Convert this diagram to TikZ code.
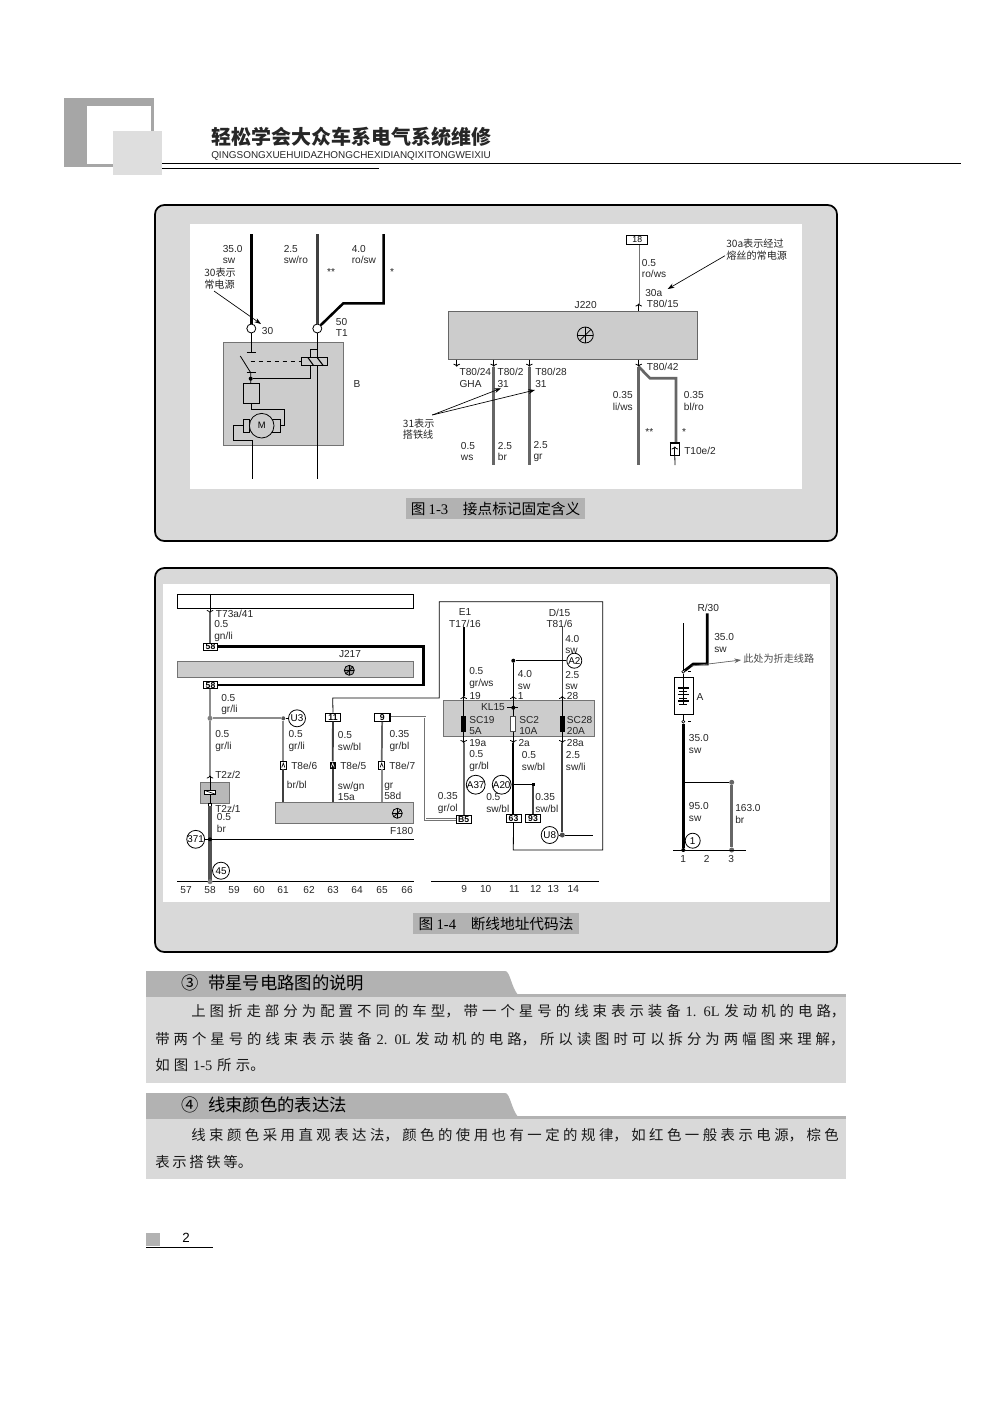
\documentclass[tikz,border=0pt]{standalone}
\usepackage{fontspec}
\setmainfont{Liberation Serif}
\setsansfont{Liberation Sans}
\newfontfamily\cjk{Noto Sans CJK SC}
\usetikzlibrary{arrows.meta}
\XeTeXlinebreaklocale "zh"
\XeTeXlinebreakskip=0pt plus 8pt
\def\px{0.75pt}
\definecolor{panelgray}{HTML}{D9D9D9}
\definecolor{capgray}{HTML}{B2B2B2}
\definecolor{boxgray}{HTML}{CCCCCC}
\definecolor{headgray}{HTML}{A6A6A6}
\definecolor{lightsq}{HTML}{DEDEDE}
\tikzstyle{panel} = [draw=black, fill=panelgray, line width=1.3pt, rounded corners=7pt]
\tikzstyle{capbox} = [fill=capgray, inner sep=0pt, font=\cjk\fontsize{11}{13}\selectfont, minimum height=21*\px]
\tikzstyle{lbl} = [font=\sffamily\fontsize{7.6}{8.6}\selectfont, inner sep=0pt, text=black!85, align=left, anchor=west]
\tikzstyle{lblc} = [lbl, anchor=center, align=center]
\tikzstyle{note} = [font=\cjk\fontsize{7.6}{8.6}\selectfont, inner sep=0pt, text=black!85, align=left, anchor=west]
\tikzstyle{gbox} = [rectangle, draw=black!55, fill=boxgray, inner sep=0pt, line width=.7pt]
\tikzstyle{wbox} = [rectangle, draw=black, fill=white, inner sep=0pt, line width=.7pt, font=\sffamily\bfseries\fontsize{6.5}{7}\selectfont]
\tikzstyle{term} = [circle, draw=black, fill=white, inner sep=0pt, minimum size=9*\px, line width=.6pt]
\tikzstyle{addr} = [circle, draw=black, fill=white, inner sep=0pt, minimum size=17*\px, line width=.6pt, font=\sffamily\fontsize{7.4}{8}\selectfont]
\tikzstyle{dotk} = [circle, fill=black, inner sep=0pt, minimum size=4*\px]
\tikzstyle{dotg} = [circle, fill=black!50, inner sep=0pt, minimum size=5*\px]
\tikzstyle{wirek} = [draw=black, line width=2.1pt]
\tikzstyle{wired} = [draw=black!75, line width=1.8pt]
\tikzstyle{wireg} = [draw=black!60, line width=2pt]
\tikzstyle{wirel} = [draw=black!45, line width=1.4pt]
\tikzstyle{thinw} = [draw=black, line width=.6pt]
\tikzstyle{dblw} = [draw=black!55, line width=.6pt, double=white, double distance=.5pt]
\tikzstyle{pinw} = [thinw, -{To[length=2.2pt,width=5pt]}]
\tikzstyle{arrw} = [draw=black, line width=.5pt, -{Stealth[length=5pt,width=3.5pt]}]
\tikzstyle{ecusym} = [circle, draw=black, inner sep=0pt, line width=.6pt, path picture={
	\draw[line width=.5pt] (path picture bounding box.west) -- (path picture bounding box.east);
	\draw[line width=.5pt] (path picture bounding box.north) -- (path picture bounding box.south);
	\draw[line width=.5pt] (path picture bounding box.south west) -- (path picture bounding box.north east);}]
\tikzstyle{pinbox} = [rectangle, draw=black, fill=white, inner sep=0pt, minimum width=6*\px, minimum height=7.3*\px, line width=.6pt, path picture={
	\draw[line width=.5pt] ([xshift=-1.2pt,yshift=-1.6pt]path picture bounding box.center) -- ([yshift=1.6pt]path picture bounding box.center) -- ([xshift=1.2pt,yshift=-1.6pt]path picture bounding box.center);}]
\tikzstyle{pinboxk} = [rectangle, fill=black, inner sep=0pt, minimum width=6*\px, minimum height=7.3*\px, path picture={
	\draw[white, line width=.5pt] ([xshift=-1.2pt,yshift=-1.6pt]path picture bounding box.center) -- ([yshift=1.6pt]path picture bounding box.center) -- ([xshift=1.2pt,yshift=-1.6pt]path picture bounding box.center);}]
\tikzstyle{bodytxt} = [font=\cjk\fontsize{10.8}{14}\selectfont, inner sep=0pt, anchor=west, text=black!90, execute at begin node={\tolerance=10000\hbadness=10000\parfillskip=0pt\relax}]
\tikzstyle{tabtitle} = [font=\cjk\fontsize{13}{15}\selectfont, inner sep=0pt, anchor=west]

\begin{document}
\begin{tikzpicture}[x=0.75pt,y=-0.75pt]
	\useasboundingbox (0,0) rectangle (992,1403);
	\fill[white] (0,0) rectangle (992,1403);

	\fill[headgray] (64,98) rectangle (154,167);
	\fill[white] (87,106) rectangle (151,164);
	\fill[lightsq] (113,131) rectangle (162,175);
	\draw[line width=.7pt] (162,163.5) -- (961,163.5);
	\draw[line width=.7pt] (162,168.5) -- (379,168.5);
	\node[inner sep=0pt, anchor=west, font=\cjk\bfseries\fontsize{15}{17}\selectfont, text=black!85](booktitle) at (211,137) {轻松学会大众车系电气系统维修};
	\node[inner sep=0pt, anchor=west, font=\sffamily\fontsize{7.45}{8}\selectfont, text=black!85](bookpinyin) at (211,155.5) {QINGSONGXUEHUIDAZHONGCHEXIDIANQIXITONGWEIXIU};

	\draw[panel] (155,205) rectangle (837,541);
	\fill[white] (190,224) rectangle (802,489);
	\node[capbox, minimum width=179*\px](cap3) at (495.5,508.5) {图 {\rmfamily 1-3}\quad 接点标记固定含义};

	\draw[panel] (155,568) rectangle (837,952);
	\fill[white] (163,584) rectangle (830,902);
	\node[capbox, minimum width=166*\px](cap4) at (496,923.5) {图 {\rmfamily 1-4}\quad 断线地址代码法};

	\node[gbox, minimum width=119.6*\px, minimum height=103.4*\px](boxb) at (283.5,394) {};
	\node[term](c30) at (251.3,328.5) {};
	\node[term](c50) at (317.3,328.5) {};
	\coordinate (w30) at (251.3,234);
	\coordinate (w50) at (317.3,234);
	\coordinate (w50b) at (317.3,479.3);
	\coordinate (w15) at (383.7,234);
	\coordinate (sw1) at (251.3,352.7);
	\draw[wirek] (w30) -- (c30);
	\draw[wired] (w50) -- (c50);
	\draw[wirek, line width=1.9pt] (w15) -- (383.7,303.3) -- (343.3,303.3) -- (c50);
	\draw[thinw] (c30) -- (sw1);
	\draw[thinw] (c50) -- (w50b);
	\draw[line width=1.1pt] (246.7,352.7) -- (256,352.7);
	\draw[line width=1.1pt] (246.7,372.7) -- (256,372.7);
	\draw[thinw] (240.3,356) -- (250.7,372.7) -- (250.7,383.3);
	\node[rectangle, draw=black, fill=boxgray, inner sep=0pt, minimum width=26*\px, minimum height=8*\px, line width=.5pt](rel) at (314.3,361.7) {};
	\draw[line width=1.3pt] (rel.north west) -- (rel.north east);
	\draw[line width=.8pt] (308,357.7) -- (313.7,365.7);
	\draw[line width=.8pt] (317.3,357.7) -- (323.3,365.7);
	\draw[thinw, dashed] (250.7,361.7) -- (rel.west);
	\draw[thinw] (310.3,357.7) -- (310.3,349.3) -- (317.3,349.3);
	\node[dotk](swdot) at (250.7,378.7) {};
	\draw[thinw] (swdot) -- (310.3,378.7) -- (310.3,365.7);
	\node[rectangle, draw=black, fill=boxgray, inner sep=0pt, minimum width=16*\px, minimum height=20*\px, line width=.6pt](res) at (251.3,393.3) {};
	\node[rectangle, draw=black, fill=boxgray, inner sep=0pt, minimum width=6*\px, minimum height=13.3*\px, line width=.6pt](brl) at (246.3,425.7) {};
	\node[rectangle, draw=black, fill=boxgray, inner sep=0pt, minimum width=8.4*\px, minimum height=13.3*\px, line width=.6pt](brr) at (276.5,425.7) {};
	\node[circle, draw=black, fill=boxgray, inner sep=0pt, minimum size=24.6*\px, line width=.6pt, font=\sffamily\fontsize{7}{8}\selectfont](motor) at (261.7,425.7) {M};
	\draw[thinw] (res.south) -- (251.3,409.3) -- (284.7,409.3) -- (284.7,425.7) -- (brr.east);
	\coordinate (wmot) at (252.7,479.3);
	\draw[thinw] (brl.west) -- (233.3,425.7) -- (233.3,440) -- (252.7,440) -- (wmot);
	\node[lbl](lw30) at (222.5,254.5) {35.0\\sw};
	\node[lbl](lw50) at (283.5,254.5) {2.5\\sw/ro};
	\node[lbl](lw15) at (351.5,254.5) {4.0\\ro/sw};
	\node[lblc](st1) at (331,272) {**};
	\node[lblc](st2) at (392,272) {*};
	\node[note](n30) at (204,278.5) {30表示\\常电源};
	\coordinate (n30a) at (214,291);
	\coordinate (n30b) at (261,324);
	\draw[arrw] (n30a) -- (n30b);
	\node[lbl](l30) at (261.7,331) {30};
	\node[lbl](l50) at (335.7,327.5) {50\\T1};
	\node[lblc](lb) at (357,384) {B};

	\node[wbox, minimum width=20.7*\px, minimum height=9.4*\px, font=\sffamily\fontsize{6.5}{7}\selectfont](b18) at (637.3,240) {18};
	\node[gbox, minimum width=248.6*\px, minimum height=47.7*\px, draw=black!60](j220) at (573,335.2) {};
	\draw[line width=1.2pt, black!60] (j220.south west) -- (j220.south east);
	\node[ecusym, minimum size=16*\px](j220s) at (585.3,335) {};
	\coordinate (p15) at (638.7,303.5);
	\draw[dblw] (b18.south -| p15) -- (p15);
	\draw[pinw] (j220.north -| p15) -- (p15);
	\coordinate (p24) at (456.7,366.7);
	\coordinate (p2) at (493.7,366.7);
	\coordinate (p28) at (529.3,366.7);
	\coordinate (p42) at (638.7,366.7);
	\foreach \p in {p24,p2,p28,p42}
		\draw[pinw] (j220.south -| \p) -- (\p);
	\coordinate (e2) at (493.7,465);
	\coordinate (e28) at (529.3,465);
	\coordinate (e42) at (638.7,465);
	\draw[wireg] (p2) -- (e2);
	\draw[wireg] (p28) -- (e28);
	\draw[wireg] (p42) -- (e42);
	\node[rectangle, draw=black, fill=white, inner sep=0pt, minimum width=9*\px, minimum height=12.4*\px, line width=.6pt](t10) at (674.8,449.5) {};
	\draw[wireg] (p42) -- (650,378.3) -- (676,378.3) -- (676,443.3);
	\draw[line width=1.3pt] (t10.north west) -- (t10.north east);
	\coordinate (t10e) at (675,465);
	\draw[thinw] (t10.south) -- (t10e);
	\draw[pinw] (t10.south) -- (674.8,446.5);
	\node[lbl](l18a) at (641.7,268.5) {0.5\\ro/ws};
	\node[lbl](l30a) at (645,292.7) {30a};
	\node[lbl](lt15) at (646.7,304.3) {T80/15};
	\node[lblc](lj220) at (585.7,305) {J220};
	\node[lbl](lt24) at (459.3,378) {T80/24\\GHA};
	\node[lbl](lt2) at (497.3,378) {T80/2\\31};
	\node[lbl](lt28) at (535,378) {T80/28\\31};
	\node[lbl](lt42) at (646.7,366.7) {T80/42};
	\node[lbl](lli) at (612.7,401) {0.35\\li/ws};
	\node[lbl](lbl1) at (683.7,401) {0.35\\bl/ro};
	\node[lblc](st3) at (649.3,431.7) {**};
	\node[lblc](st4) at (684,431.7) {*};
	\node[lbl](lws) at (460.7,451.5) {0.5\\ws};
	\node[lbl](lbr) at (497.7,451.5) {2.5\\br};
	\node[lbl](lgr) at (533.3,451.5) {2.5\\gr};
	\node[lbl](lt10) at (684,451) {T10e/2};
	\node[note](n31) at (402.7,429) {31表示\\搭铁线};
	\coordinate (n31a) at (432.3,415);
	\coordinate (n31b) at (501,388.3);
	\coordinate (n31c) at (535,390);
	\draw[arrw] (n31a) -- (n31b);
	\draw[arrw] (n31a) -- (n31c);
	\node[note](n30x) at (726,249.5) {30a表示经过\\熔丝的常电源};
	\coordinate (n30xa) at (725,255.7);
	\coordinate (n30xb) at (667.7,289);
	\draw[arrw] (n30xa) -- (n30xb);

	\node[rectangle, draw=black, fill=white, inner sep=0pt, line width=.7pt, minimum width=236.4*\px, minimum height=14*\px](topbox) at (295.5,601.3) {};
	\node[gbox, minimum width=236.4*\px, minimum height=16.4*\px](j217) at (295.5,669.5) {};
	\node[ecusym, minimum size=10*\px, fill=black!40](j217s) at (349.3,670.3) {};
	\node[gbox, minimum width=138.4*\px, minimum height=21.4*\px](f180) at (344.5,813) {};
	\node[ecusym, minimum size=10*\px](f180s) at (397.3,813.3) {};
	\node[gbox, minimum width=29*\px, minimum height=21*\px, fill=black!28](t2z) at (215.2,792.8) {};
	\node[wbox, minimum width=14.4*\px, minimum height=7*\px](b58a) at (210.5,646.7) {58};
	\node[wbox, minimum width=14.4*\px, minimum height=7*\px](b58b) at (210.5,685.2) {58};
	\node[wbox, minimum width=15.4*\px, minimum height=8*\px](b11) at (333,717.2) {11};
	\node[wbox, minimum width=15.7*\px, minimum height=8*\px, line width=1pt](b9) at (382.2,717.2) {9};
	\coordinate (q73) at (210,613);
	\draw[pinw] (topbox.north -| q73) -- (q73);
	\draw[wireg, line width=1.6pt] (q73) -- (b58a.north -| q73);
	\draw[wirek, line width=1.9pt] (b58a.east) -- (423.3,646.7) -- (423.3,685.2) -- (b58b.east);
	\node[dotg](jn1) at (210,718.3) {};
	\node[addr](u3) at (297,718.3) {U3};
	\node[dotg, fill=black!65, minimum size=4*\px](jn2) at (283.3,718.3) {};
	\coordinate (q2z) at (210,775.5);
	\draw[wirel] (b58b.south -| q2z) -- (jn1);
	\draw[wirel] (jn1) -- (q2z);
	\draw[wirel] (jn1) -- (jn2);
	\draw[thinw] (jn2) -- (u3);
	\node[pinbox](t86) at (283.3,765.3) {};
	\node[pinboxk](t85) at (332.7,765.3) {};
	\node[pinbox](t87) at (381.7,765.3) {};
	\draw[wirel] (jn2) -- (t86);
	\draw[wired, line width=1.6pt] (t86) -- (t86 |- f180.north);
	\draw[wired, line width=1.4pt] (b11) -- (t85);
	\draw[wired, line width=1.4pt] (t85) -- (t85 |- f180.north);
	\draw[wireg, line width=1.3pt] (b9) -- (t87);
	\draw[wirel] (t87) -- (t87 |- f180.north);
	\draw[pinw] (t2z.north -| q2z) -- (q2z);
	\node[rectangle, draw=black, fill=white, inner sep=0pt, minimum width=11.4*\px, minimum height=4*\px, line width=.6pt, path picture={\draw[line width=.5pt] (path picture bounding box.north west) -- (path picture bounding box.south east);}](relz) at (210,792.3) {};
	\draw[thinw] (t2z.north -| q2z) -- (relz);
	\node[rectangle, draw=black, fill=white, inner sep=0pt, minimum width=3*\px, minimum height=3*\px, line width=.4pt](t21) at (210,804.5) {};
	\draw[thinw] (relz) -- (t21);
	\coordinate (axl) at (177.3,881.7);
	\coordinate (axr) at (413.7,881.7);
	\coordinate (axj) at (210,881.7);
	\draw[draw=black!68, line width=2.3pt] (t21.south) -- (axj);
	\node[addr](a371) at (195.7,839.3) {371};
	\coordinate (e371) at (413.7,839.3);
	\draw[thinw] (a371) -- (e371);
	\node[dotk](d371) at (210,839.3) {};
	\node[addr](a45) at (221,870.7) {45};
	\draw[thinw] (axl) -- (axr);
	\draw[line width=1.1pt] (318.3,881.7) -- (395.7,881.7);
	\node[dotg](axd) at (axj) {};
	\foreach \t/\x in {57/186,58/210,59/234,60/259,61/283,62/309,63/333,64/357,65/382,66/407}
		\node[lblc](ax\t) at (\x,890) {\t};
	\node[lbl](lt73) at (215.7,614.3) {T73a/41};
	\node[lbl](l1) at (214,631) {0.5\\gn/li};
	\node[lblc](lj217) at (350,654.3) {J217};
	\node[lbl](l2) at (221,704.5) {0.5\\gr/li};
	\node[lbl](l3) at (215,741) {0.5\\gr/li};
	\node[lbl](l4) at (288.3,741) {0.5\\gr/li};
	\node[lbl](l5) at (337.7,741) {0.5\\sw/bl};
	\node[lbl](l6) at (389.3,741) {0.35\\gr/bl};
	\node[lbl](lt86) at (291,766) {T8e/6};
	\node[lbl](lt85) at (340,766) {T8e/5};
	\node[lbl](lt87) at (389,766) {T8e/7};
	\node[lbl](l7) at (286.7,785) {br/bl};
	\node[lbl](l8) at (337.7,791.5) {sw/gn\\15a};
	\node[lbl](l9) at (384,791.5) {gr\\58d};
	\node[lbl](lt22) at (215,775) {T2z/2};
	\node[lbl](lt21) at (215,809) {T2z/1};
	\node[lbl](l10) at (216.7,823) {0.5\\br};
	\node[lblc](lf180) at (401.7,831) {F180};

	\node[gbox, minimum width=151.4*\px, minimum height=36*\px](kl15) at (519,718.7) {};
	\node[wbox, minimum width=15.3*\px, minimum height=7.5*\px](b85) at (463.7,819.4) {B5};
	\node[wbox, minimum width=15*\px, minimum height=7.5*\px](b63) at (513.5,818.7) {63};
	\node[wbox, minimum width=15.4*\px, minimum height=7.5*\px](b93) at (533,818.7) {93};
	\draw[dblw] (b9.east) -- (425,717.2) -- (425,819.4) -- (b85.west);
	\draw[thinw] (b11.north) -- (332.7,698) -- (439.3,698) -- (439.3,601.7) -- (602.7,601.7) -- (602.7,850) -- (513.3,850) -- (b63.south);
	\coordinate (e1t) at (463.7,627.3);
	\coordinate (e1u) at (463.7,696);
	\coordinate (e1d) at (463.7,743);
	\coordinate (klu) at (513.3,696);
	\coordinate (kld) at (513.3,743);
	\coordinate (d15t) at (562.3,627.3);
	\coordinate (d15u) at (562.3,696);
	\coordinate (d15d) at (562.3,743);
	\draw[wirek, line width=1.5pt] (e1t) -- (e1u);
	\draw[wired, line width=1.2pt] (d15t) -- (d15u);
	\draw[thinw] (e1u) -- (e1d);
	\draw[thinw] (klu) -- (kld);
	\draw[thinw] (d15u) -- (d15d);
	\foreach \u/\d in {e1u/e1d,klu/kld,d15u/d15d}{
		\draw[pinw] (kl15.north -| \u) -- (\u);
		\draw[pinw] (kl15.south -| \d) -- (\d);
	}
	\node[rectangle, fill=black, inner sep=0pt, minimum width=5.4*\px, minimum height=15.7*\px](sc19) at (463.7,723.8) {};
	\node[rectangle, draw=black!70, fill=white, inner sep=0pt, line width=.5pt, minimum width=5*\px, minimum height=15.7*\px](sc2) at (513.3,723.8) {};
	\node[rectangle, fill=black, inner sep=0pt, minimum width=5.4*\px, minimum height=15.7*\px](sc28) at (562.3,723.8) {};
	\node[dotk](dkl) at (513.3,707.7) {};
	\coordinate (kla) at (507.3,707.7);
	\coordinate (klb) at (518.3,707.7);
	\draw[thinw] (kla) -- (klb);
	\node[addr, minimum size=15*\px](a2) at (574.3,660.7) {A2};
	\node[dotk](da2) at (513.3,660.7) {};
	\draw[thinw] (a2) -- (da2);
	\draw[thinw] (da2) -- (klu);
	\draw[wireg, line width=1.3pt] (e1d) -- (b85.north -| e1d);
	\draw[wirek, line width=1.5pt] (kld) -- (b63.north -| kld);
	\node[addr](u8) at (549.7,835) {U8};
	\node[dotg, fill=black!70](du8) at (562.3,835) {};
	\coordinate (eu8) at (592.7,835);
	\draw[wired, line width=1.4pt] (d15d) -- (du8);
	\draw[thinw] (u8) -- (du8);
	\draw[thinw] (du8) -- (eu8);
	\node[addr](a37) at (475.7,784.7) {A37};
	\node[addr](a20) at (501.7,784.7) {A20};
	\node[dotk, rectangle, minimum size=3*\px](da20) at (533.3,784.7) {};
	\draw[thinw] (a20) -- (da20);
	\draw[wired, line width=1.4pt] (da20) -- (b93.north -| da20);
	\coordinate (axm) at (431,881.7);
	\coordinate (axn) at (598.7,881.7);
	\draw[thinw] (axm) -- (axn);
	\draw[line width=1.1pt] (531,881.7) -- (586.7,881.7);
	\foreach \t/\x in {9/464.3,10/485.7,11/514.3,12/535.7,13/553.3,14/573.3}
		\node[lblc](am\t) at (\x,889.3) {\t};
	\node[lblc](le1) at (465,618) {E1\\T17/16};
	\node[lblc](ld15) at (559.5,618.3) {D/15\\T81/6};
	\node[lbl](m1) at (469,678) {0.5\\gr/ws};
	\node[lbl](m2) at (565,644.5) {4.0\\sw};
	\node[lbl](m3) at (565,680.5) {2.5\\sw};
	\node[lbl](m4) at (517.7,680) {4.0\\sw};
	\node[lbl](m5) at (469.3,696) {19};
	\node[lbl](m6) at (517.7,696) {1};
	\node[lbl](m7) at (566.7,696) {28};
	\node[lblc](lkl) at (493,707.3) {KL15};
	\node[lbl](m8) at (469,725.7) {SC19\\5A};
	\node[lbl](m9) at (519,725.7) {SC2\\10A};
	\node[lbl](m10) at (566.7,725.7) {SC28\\20A};
	\node[lbl](m11) at (469,743.3) {19a};
	\node[lbl](m12) at (518.3,743.3) {2a};
	\node[lbl](m13) at (566.7,743.3) {28a};
	\node[lbl](m14) at (469,761) {0.5\\gr/bl};
	\node[lbl](m15) at (521.7,761) {0.5\\sw/bl};
	\node[lbl](m16) at (565.7,761) {2.5\\sw/li};
	\node[lbl](m17) at (437.7,803) {0.35\\gr/ol};
	\node[lbl](m18) at (486,803) {0.5\\sw/bl};
	\node[lbl](m19) at (535,803) {0.35\\sw/bl};

	\node[rectangle, draw=black, fill=white, inner sep=0pt, minimum width=18.6*\px, minimum height=37*\px, line width=.7pt](bat) at (684,695.8) {};
	\foreach \y/\w/\k in {687.7/11/1.2,691/8/.5,694.5/11/1.2,698/8/.5,701/11/1.2,704.5/8/1.2}
		\draw[line width=\k pt] (684-\w/2-.7,\y) -- (684+\w/2-.7,\y);
	\draw[thinw] (683.3,677.3) -- (683.3,704.5);
	\node[circle, draw=black, fill=white, inner sep=0pt, minimum size=3*\px, line width=.5pt](bp) at (683.3,671.7) {};
	\node[circle, draw=black, fill=white, inner sep=0pt, minimum size=3*\px, line width=.5pt](bm) at (683.3,721.7) {};
	\coordinate (r30) at (707.3,613.3);
	\coordinate (rthin) at (683.3,623.3);
	\draw[wirek] (r30) -- (707.3,664) -- (693.3,664) -- (bp);
	\draw[thinw] (rthin) -- (bp);
	\draw[thinw] (bp) -- (bat.north -| bp);
	\draw[thinw] (bat.south -| bm) -- (bm);
	\draw[line width=.5pt] (688,671.7) -- (691,671.7);
	\draw[line width=.5pt] (688,721.7) -- (691,721.7);
	\coordinate (axb) at (683.3,850);
	\node[dotk](axb1) at (axb) {};
	\draw[wirek] (bm) -- (axb1);
	\node[dotg, fill=black!60](j163) at (731.7,782.3) {};
	\coordinate (j95) at (683.3,782.3);
	\draw[thinw] (j95) -- (j163);
	\node[dotg, fill=black!60](axb3) at (731.7,850) {};
	\draw[wireg] (j163) -- (axb3);
	\coordinate (axrl) at (673.3,850);
	\coordinate (axrr) at (746,850);
	\draw[thinw] (axrl) -- (axrr);
	\node[addr, minimum size=15*\px, fill=none](g1) at (692.7,840.7) {1};
	\foreach \t/\x in {1/683.3,2/706.7,3/731.3}
		\node[lblc](ar\t) at (\x,859.3) {\t};
	\coordinate (nr1) at (691.7,666);
	\coordinate (nr2) at (741,660);
	\draw[arrw, draw=black!60, fill=black!60] (nr1) -- (nr2);
	\node[note, text=black!70](nr) at (743,658.3) {此处为折走线路};
	\node[lblc](lr30) at (708.3,608.3) {R/30};
	\node[lblc](la) at (700,697.3) {A};
	\node[lbl](r1) at (714,643) {35.0\\sw};
	\node[lbl](r2) at (688.7,744) {35.0\\sw};
	\node[lbl](r3) at (688.7,812) {95.0\\sw};
	\node[lbl](r4) at (735,814) {163.0\\br};

	\fill[panelgray] (146,995) rectangle (846,1083);
	\fill[capgray] (146,971) -- (505,971) .. controls (510,971) and (511,986) .. (518,995) -- (146,995) -- cycle;
	\fill[capgray] (146,993.5) rectangle (846,996.5);
	\node[tabtitle](s3) at (181,983) {③};
	\node[tabtitle](s3t) at (208,983) {带星号电路图的说明};
	\node[bodytxt, text width=665*\px](t1) at (191,1011) {上图折走部分为配置不同的车型，带一个星号的线束表示装备 {\rmfamily 1. 6L} 发动机的电路，};
	\node[bodytxt, text width=700*\px](t2) at (155,1039) {带两个星号的线束表示装备 {\rmfamily 2. 0L} 发动机的电路，所以读图时可以拆分为两幅图来理解，};
	\node[bodytxt, text width=121*\px](t3) at (155,1065) {如图 {\rmfamily 1-5} 所示。};

	\fill[panelgray] (146,1117) rectangle (846,1179);
	\fill[capgray] (146,1093) -- (505,1093) .. controls (510,1093) and (511,1108) .. (518,1117) -- (146,1117) -- cycle;
	\fill[capgray] (146,1115.5) rectangle (846,1118.5);
	\node[tabtitle](s4) at (181,1105) {④};
	\node[tabtitle](s4t) at (208,1105) {线束颜色的表达法};
	\node[bodytxt, text width=657*\px](t4) at (191,1135) {线束颜色采用直观表达法，颜色的使用也有一定的规律，如红色一般表示电源，棕色};
	\node[bodytxt, text width=104*\px](t5) at (155,1162) {表示搭铁等。};

	\fill[capgray] (146,1233) rectangle (160,1246);
	\draw[line width=.9pt] (146,1247.5) -- (213,1247.5);
	\node[inner sep=0pt, font=\sffamily\fontsize{10}{12}\selectfont](pageno) at (186,1238) {2};
\end{tikzpicture}
\end{document}
